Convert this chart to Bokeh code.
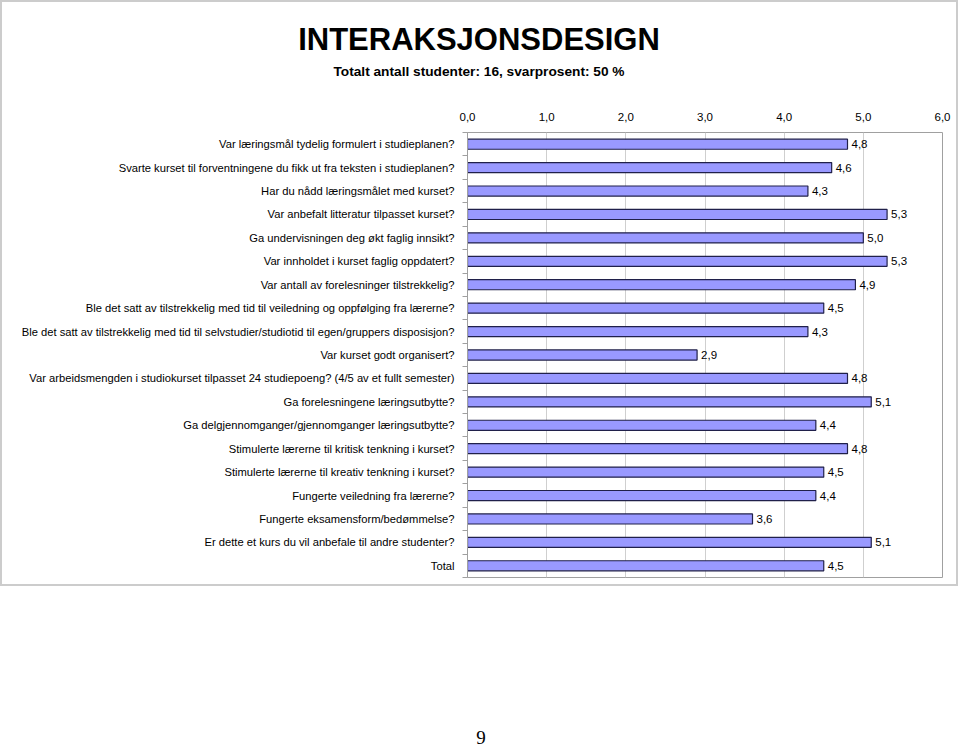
from bokeh.plotting import figure
from bokeh.models import ColumnDataSource, Range1d, FixedTicker, Div
from bokeh.layouts import column
from bokeh.core.properties import value
from bokeh.embed import file_html
from bokeh.resources import INLINE

title_text = "INTERAKSJONSDESIGN"
subtitle_text = "Totalt antall studenter: 16, svarprosent: 50 %"
page_number = "9"

questions = [
    "Var læringsmål tydelig formulert i studieplanen?",
    "Svarte kurset til forventningene du fikk ut fra teksten i studieplanen?",
    "Har du nådd læringsmålet med kurset?",
    "Var anbefalt litteratur tilpasset kurset?",
    "Ga undervisningen deg økt faglig innsikt?",
    "Var innholdet i kurset faglig oppdatert?",
    "Var antall av forelesninger tilstrekkelig?",
    "Ble det satt av tilstrekkelig med tid til veiledning og oppfølging fra lærerne?",
    "Ble det satt av tilstrekkelig med tid til selvstudier/studiotid til egen/gruppers disposisjon?",
    "Var kurset godt organisert?",
    "Var arbeidsmengden i studiokurset tilpasset 24 studiepoeng? (4/5 av et fullt semester)",
    "Ga forelesningene læringsutbytte?",
    "Ga delgjennomganger/gjennomganger læringsutbytte?",
    "Stimulerte lærerne til kritisk tenkning i kurset?",
    "Stimulerte lærerne til kreativ tenkning i kurset?",
    "Fungerte veiledning fra lærerne?",
    "Fungerte eksamensform/bedømmelse?",
    "Er dette et kurs du vil anbefale til andre studenter?",
    "Total",
]
scores = [4.8, 4.6, 4.3, 5.3, 5.0, 5.3, 4.9, 4.5, 4.3, 2.9, 4.8, 5.1, 4.4, 4.8, 4.5, 4.4, 3.6, 5.1, 4.5]
x_ticks = [0, 1, 2, 3, 4, 5, 6]
x_tick_labels = ["0,0", "1,0", "2,0", "3,0", "4,0", "5,0", "6,0"]

rows = list(range(len(questions)))
score_labels = [f"{v:.1f}".replace(".", ",") for v in scores]
src = ColumnDataSource(dict(y=rows, v=scores, lab=score_labels))

FONT = "Liberation Sans"
BORDER = "2px solid #cccccc"

header = Div(
    text=(
        '<div style="height:20px"></div>'
        f'<div style="font-size:31px;font-weight:bold;line-height:36px">{title_text}</div>'
        '<div style="height:6px"></div>'
        f'<div style="font-size:13.7px;font-weight:bold;line-height:16px">{subtitle_text}</div>'
    ),
    width=958, height=86,
    styles={"text-align": "center", "font-family": "'Liberation Sans', Arial, sans-serif",
            "color": "black", "background-color": "white",
            "border-top": BORDER, "border-left": BORDER, "border-right": BORDER,
            "margin": "0", "padding": "0"},
)

p = figure(width=958, height=500, output_backend="svg", toolbar_location=None,
           x_range=Range1d(0, 6), y_range=Range1d(len(questions) - 0.5, -0.5),
           x_axis_location="above",
           min_border_left=465, min_border_right=18, min_border_top=46, min_border_bottom=9,
           styles={"border-bottom": BORDER, "border-left": BORDER, "border-right": BORDER})
p.outline_line_color = "#a0a0a0"
p.outline_line_width = 1
p.background_fill_color = "white"
p.border_fill_color = "white"

p.hbar(y="y", right="v", left=0, height=0.43, source=src,
       fill_color="#9999ff", line_color="#20204a", line_width=1.2)
p.text(x="v", y="y", text="lab", source=src, x_offset=4,
       text_font=value(FONT), text_font_size="11.5px", text_baseline="middle",
       text_align="left", text_color="black")

# x axis (top)
xa = p.xaxis[0]
xa.ticker = FixedTicker(ticks=x_ticks)
xa.major_label_overrides = {t: l for t, l in zip(x_ticks, x_tick_labels)}
xa.major_label_text_font = FONT
xa.major_label_text_font_size = "11.5px"
xa.major_label_text_color = "black"
xa.major_tick_line_color = None
xa.minor_tick_line_color = None
xa.axis_line_color = None
xa.major_label_standoff = 6

# y axis (left)
ya = p.yaxis[0]
ya.ticker = FixedTicker(ticks=rows, minor_ticks=[r - 0.5 for r in rows] + [len(rows) - 0.5])
ya.major_label_overrides = {r: q for r, q in zip(rows, questions)}
ya.major_label_text_font = FONT
ya.major_label_text_font_size = "11.2px"
ya.major_label_text_color = "black"
ya.major_tick_line_color = None
ya.minor_tick_line_color = "#a0a0a0"
ya.minor_tick_out = 5
ya.minor_tick_in = 0
ya.axis_line_color = "#a0a0a0"
ya.major_label_standoff = 7

p.ygrid.grid_line_color = None
p.xgrid.grid_line_color = "#cfcfcf"
p.xgrid.ticker = FixedTicker(ticks=x_ticks)

nine = Div(text=page_number, width=960, height=154,
           styles={"text-align": "center", "font-family": "'Liberation Serif', serif",
                   "font-size": "19px", "color": "black", "padding-top": "140px",
                   "padding-right": "8px",
                   "box-sizing": "border-box", "line-height": "14px"})

layout = column(header, p, nine, spacing=0)
open("out.html", "w").write(file_html(layout, INLINE))
